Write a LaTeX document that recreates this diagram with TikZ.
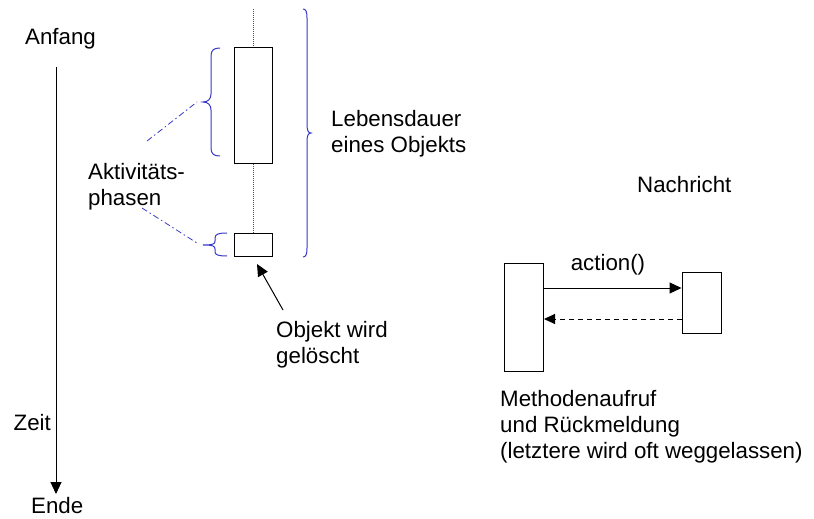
\documentclass[tikz,border=0pt]{standalone}
\usepackage{fontspec}
\setmainfont{Liberation Sans}
\usetikzlibrary{arrows.meta}
\definecolor{bracecol}{RGB}{55,55,205}
\begin{document}
\begin{tikzpicture}[x=1pt,y=-1pt,
  txt/.style={inner sep=0pt, align=left, font=\fontsize{22.3}{25.8}\selectfont},
  boxnode/.style={draw, line width=1pt, fill=white, inner sep=0pt},
  brace/.style={draw=bracecol, line width=1pt},
  dashdotline/.style={draw=bracecol, line width=0.8pt, dash pattern=on 6pt off 3pt on 1.5pt off 3pt},
  arr/.style={line width=1pt, -{Triangle[length=12pt,width=11pt]}},
  lifeline/.style={draw=black!70, line width=0.8pt, dash pattern=on 1pt off 1pt}
]
\useasboundingbox (0,0) rectangle (814,519);

% time axis
\node[txt, anchor=base west] (anfang) at (25,45) {Anfang};
\node[txt, anchor=base east] (zeit) at (51,430) {Zeit};
\node[txt, anchor=base west] (ende) at (31,513) {Ende};
\coordinate (tstart) at (56,67);
\coordinate (tend) at (56,494);
\draw[arr] (tstart) -- (tend);

% lifeline with activations
\coordinate (ltop) at (253.5,9);
\node[boxnode, minimum width=38.5pt, minimum height=116pt] (act1) at (253.5,105.5) {};
\node[boxnode, minimum width=38.5pt, minimum height=23pt] (act2) at (253.5,244.5) {};
\draw[lifeline] (ltop) -- (act1.north);
\draw[lifeline] (act1.south) -- (act2.north);

% big brace
\draw[brace] (303,9) .. controls (306,9) and (307,12) .. (307,18) -- (307,124)
  .. controls (307,130) and (308,133) .. (311,133)
  .. controls (308,133) and (307,136) .. (307,142) -- (307,248)
  .. controls (307,254) and (306,257) .. (303,257);
\node[txt, anchor=base west] (leben) at (331,152) {Lebensdauer\\eines Objekts};

% small braces
\draw[brace] (220,48) .. controls (214,48) and (211,50) .. (211,56) -- (211,94)
  .. controls (211,99) and (208,102) .. (203,102)
  .. controls (208,102) and (211,105) .. (211,110) -- (211,148)
  .. controls (211,154) and (214,156) .. (220,156);
\draw[brace] (227,233) .. controls (219,233) and (215,234) .. (215,238) -- (215,241)
  .. controls (215,244) and (213,245) .. (203,245)
  .. controls (213,245) and (215,246) .. (215,249) -- (215,252)
  .. controls (215,255) and (219,256) .. (227,256);
\coordinate (br1tip) at (197,102);
\coordinate (br2tip) at (197,243);
\coordinate (ak1) at (147,141);
\coordinate (ak2) at (142,208);
\draw[dashdotline] (ak1) -- (br1tip);
\draw[dashdotline] (ak2) -- (br2tip);
\node[txt, anchor=base west] (aktiv) at (88,205) {Aktivitäts-\\phasen};

% deletion arrow
\coordinate (deltail) at (283,310);
\coordinate (delhead) at (257,264);
\draw[arr] (deltail) -- (delhead);
\node[txt, anchor=base west] (geloescht) at (276,363) {Objekt wird\\gelöscht};

% message
\node[txt, anchor=base west] (nachricht) at (637,192) {Nachricht};
\node[boxnode, minimum width=39pt, minimum height=108pt] (caller) at (524,317.5) {};
\node[boxnode, minimum width=39pt, minimum height=61pt] (callee) at (701.5,302.5) {};
\coordinate (m1) at (0,288);
\coordinate (m2) at (0,319);
\draw[arr] (caller.east |- m1) -- (callee.west |- m1);
\draw[line width=1pt, dash pattern=on 5pt off 4pt, -{Triangle[length=11pt,width=10pt]}] (callee.west |- m2) -- (caller.east |- m2);
\node[txt, anchor=base] (action) at (608,270) {action()};
\node[txt, anchor=base west] (methode) at (500,458) {Methodenaufruf\\und Rückmeldung\\(letztere wird oft weggelassen)};
\end{tikzpicture}
\end{document}
